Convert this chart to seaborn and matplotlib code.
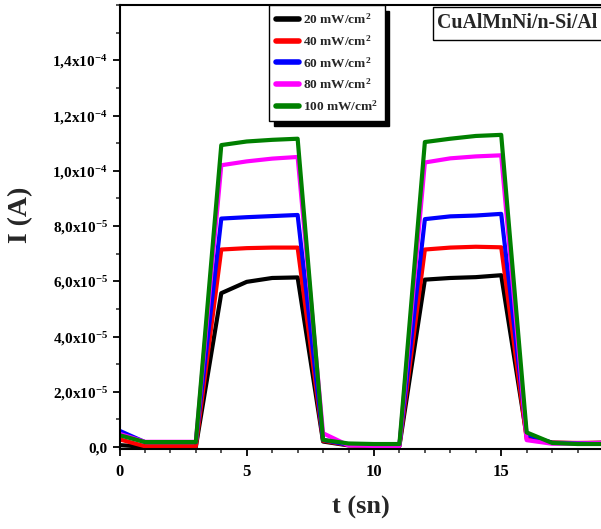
import numpy as np
import pandas as pd
import matplotlib
matplotlib.use("Agg")
import matplotlib.pyplot as plt
from matplotlib.ticker import FixedLocator, MultipleLocator
from matplotlib.patches import Rectangle
import seaborn as sns

# ---------------- data ----------------
t = list(range(0, 20))
series_names = ["20 mW/cm$^2$", "40 mW/cm$^2$", "60 mW/cm$^2$", "80 mW/cm$^2$", "100 mW/cm$^2$"]
colors = ["#000000", "#ff0000", "#0000ff", "#ff00ff", "#008000"]

i20 = [0.7e-6, 0.1e-6, 0.1e-6, 0.1e-6, 5.57e-5, 5.98e-5, 6.12e-5, 6.14e-5, 2.0e-6, 0.6e-6,
       0.4e-6, 0.4e-6, 6.06e-5, 6.12e-5, 6.15e-5, 6.22e-5, 4.0e-6, 1.6e-6, 1.4e-6, 1.5e-6]
i40 = [2.8e-6, 0.3e-6, 0.3e-6, 0.3e-6, 7.15e-5, 7.20e-5, 7.22e-5, 7.22e-5, 2.3e-6, 0.7e-6,
       0.6e-6, 0.6e-6, 7.15e-5, 7.22e-5, 7.25e-5, 7.23e-5, 3.0e-6, 1.6e-6, 1.5e-6, 1.6e-6]
i60 = [5.9e-6, 1.8e-6, 1.8e-6, 1.8e-6, 8.27e-5, 8.32e-5, 8.36e-5, 8.40e-5, 2.6e-6, 0.8e-6,
       0.8e-6, 0.8e-6, 8.25e-5, 8.35e-5, 8.38e-5, 8.44e-5, 4.5e-6, 1.5e-6, 1.4e-6, 1.5e-6]
i80 = [4.8e-6, 1.9e-6, 1.9e-6, 1.9e-6, 1.020e-4, 1.034e-4, 1.044e-4, 1.050e-4, 5.0e-6, 0.6e-6,
       0.4e-6, 0.4e-6, 1.030e-4, 1.045e-4, 1.052e-4, 1.056e-4, 2.5e-6, 1.2e-6, 1.3e-6, 1.5e-6]
i100 = [4.3e-6, 1.8e-6, 1.8e-6, 1.8e-6, 1.093e-4, 1.106e-4, 1.112e-4, 1.116e-4, 2.6e-6, 1.3e-6,
        1.1e-6, 1.1e-6, 1.104e-4, 1.116e-4, 1.126e-4, 1.130e-4, 5.3e-6, 1.5e-6, 1.1e-6, 1.1e-6]

ytick_vals = [0.0, 2e-5, 4e-5, 6e-5, 8e-5, 1.0e-4, 1.2e-4, 1.4e-4]
ytick_labels = ["0,0", "2,0x10$^{-5}$", "4,0x10$^{-5}$", "6,0x10$^{-5}$", "8,0x10$^{-5}$",
                "1,0x10$^{-4}$", "1,2x10$^{-4}$", "1,4x10$^{-4}$"]
xtick_vals = [0, 5, 10, 15]
xtick_labels = ["0", "5", "10", "15"]
title_text = "CuAlMnNi/n-Si/Al"
xlabel = "t (sn)"
ylabel = "I (A)"

# ---------------- style ----------------
sns.set_theme(style="ticks")
plt.rcParams["font.family"] = ["Liberation Serif", "DejaVu Serif"]
plt.rcParams["font.weight"] = "bold"
plt.rcParams["mathtext.fontset"] = "custom"
plt.rcParams["mathtext.rm"] = "Liberation Serif:bold"
plt.rcParams["mathtext.bf"] = "Liberation Serif:bold"
plt.rcParams["mathtext.it"] = "Liberation Serif:bold"
plt.rcParams["mathtext.default"] = "bf"

df = pd.DataFrame({
    "t": t * 5,
    "I": i20 + i40 + i60 + i80 + i100,
    "series": sum([[n] * len(t) for n in series_names], []),
})

W, H = 601, 529
fig = plt.figure(figsize=(W / 100, H / 100), dpi=100)
ax_left = 119.5 / W
ax_bottom = (H - 449) / H
ax_top = (H - 5) / H
ax_w = (603 - 119.5) / W
ax = fig.add_axes([ax_left, ax_bottom, ax_w, ax_top - ax_bottom])

sns.lineplot(data=df, x="t", y="I", hue="series", hue_order=series_names,
             palette=colors, linewidth=3, ax=ax, legend=True)

ax.set_xlim(0, 19)
ax.set_ylim(-7e-7, 1.6e-4)

ax.xaxis.set_major_locator(FixedLocator(xtick_vals))
ax.set_xticklabels(xtick_labels)
ax.xaxis.set_minor_locator(MultipleLocator(1))
ax.yaxis.set_major_locator(FixedLocator(ytick_vals))
ax.set_yticklabels(ytick_labels)
ax.yaxis.set_minor_locator(MultipleLocator(1e-5))

ax.tick_params(axis="both", which="major", direction="out", length=5, width=1.3,
               labelsize=11, colors="black")
ax.tick_params(axis="both", which="minor", direction="out", length=3, width=1.1)
for lab in ax.get_xticklabels() + ax.get_yticklabels():
    lab.set_fontweight("bold")
ax.tick_params(axis="x", labelsize=12, pad=6)

for sp in ax.spines.values():
    sp.set_linewidth(1.5)
    sp.set_color("black")
    sp.set_visible(True)

ax.set_xlabel(xlabel, fontsize=19, fontweight="bold")
ax.xaxis.set_label_coords(0.5, -0.105)
ax.set_ylabel(ylabel, fontsize=20, fontweight="bold")
ax.yaxis.set_label_coords(-0.178, 0.527)

leg = ax.legend(loc="upper left", bbox_to_anchor=(0.31, 1.0), borderaxespad=0,
                fontsize=9.6, frameon=True, fancybox=False,
                shadow={"color": "black", "alpha": 1.0, "ox": 3, "oy": -4},
                handlelength=1.75, handletextpad=0.3, labelspacing=0.55,
                borderpad=0.5, title=None)
leg.get_frame().set_edgecolor("black")
leg.get_frame().set_linewidth(1.0)
for line in leg.get_lines():
    line.set_linewidth(4)
for txt in leg.get_texts():
    txt.set_fontweight("bold")

# label box in the top right corner
fig.add_artist(Rectangle((432.7 / W, (H - 40) / H), (615 - 432.7) / W, (40 - 6.7) / H,
                         transform=fig.transFigure, facecolor="white", edgecolor="black",
                         linewidth=1.0, zorder=5))
fig.text(437 / W, (H - 23.5) / H, title_text, ha="left", va="center",
         fontsize=14.3, fontweight="bold", zorder=6)

fig.savefig("out.png", dpi=100)
